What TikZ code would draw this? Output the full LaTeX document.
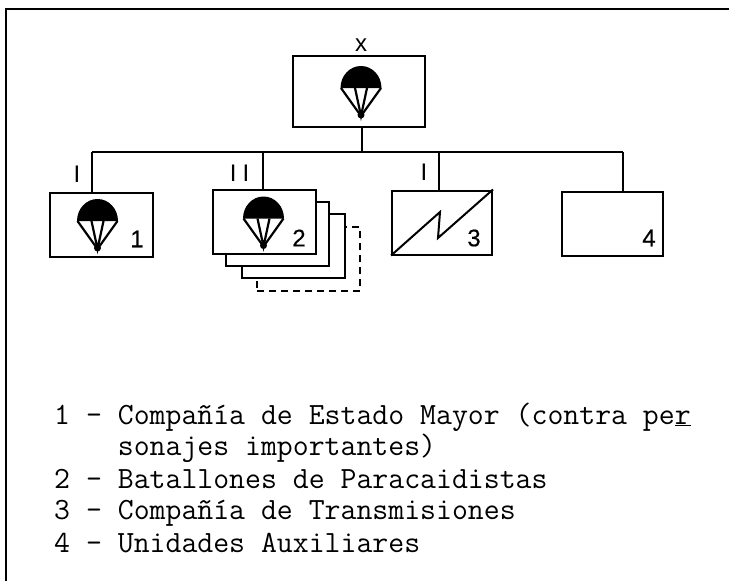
\documentclass[tikz,border=0pt]{standalone}
\usepackage{fontspec}
\setmainfont{Liberation Sans}
\usetikzlibrary{positioning}

\tikzset{
	unitbox/.style={draw=black,line width=2pt,fill=white,minimum width=103pt,minimum height=64pt,inner sep=0pt},
	bigbox/.style={unitbox,minimum width=132pt,minimum height=71pt},
	ghostbox/.style={unitbox,dash pattern=on 7pt off 5pt,line width=1.8pt},
	busline/.style={line width=2.8pt},
	drop/.style={line width=2pt},
	rank/.style={font=\fontsize{24}{24}\selectfont,inner sep=0pt},
	number/.style={font=\fontsize{24}{24}\selectfont\addfontfeature{FakeBold=0.4},inner sep=0pt},
	legend/.style={font=\ttfamily\fontsize{30.9}{32}\selectfont\addfontfeature{FakeBold=0.6},anchor=base west,inner sep=0pt}
}
% parachute symbol, drawn at the given point
\newcommand{\chute}[1]{
	\begin{scope}[shift={#1},line width=2.2pt]
		\fill (-20.5,0) arc (180:360:20.5 and 22) -- cycle;
		\draw (-20,0) -- (0,28) -- (20,0);
		\draw (-6,0) -- (0,28) -- (6,0);
		\fill (0,27) circle (3.5);
	\end{scope}
}

\begin{document}
\begin{tikzpicture}[x=1pt,y=-1pt]
\useasboundingbox (0,0) rectangle (729,581);

% frame
\draw[line width=2pt] (6,581) -- (6,9) -- (729,9);

% boxes
\node[bigbox] (top) at (359,91.5) {};
\node[unitbox] (coy) at (101.5,225) {};
\node[ghostbox] (bn4) at (308.5,259) {};
\node[unitbox] (bn3) at (293.5,245.5) {};
\node[unitbox] (bn2) at (277,233.5) {};
\node[unitbox] (bn1) at (264.5,222) {};
\node[unitbox,minimum width=100pt] (sig) at (442,222.5) {};
\node[unitbox,minimum width=101pt] (aux) at (612.5,224) {};

% lines
\coordinate (busleft) at (92,152);
\coordinate (busright) at (623,152);
\draw[busline] (busleft) -- (busright);
\draw[drop] ([xshift=3pt]top.south) -- ([xshift=3pt]top.south |- busleft);
\draw[drop] (busleft) -- (busleft |- coy.north);
\draw[drop] (263,152) -- (263,190);
\draw[drop] (439,152) -- (439,190.5);
\draw[drop] (busright) -- (busright |- aux.north);

% ranks
\node[rank] (xmark) at (361,45) {x};
\node[rank] (rcoy) at (77,174.5) {I};
\node[rank] (rbn) at (239.5,173.5) {I\hspace{6pt}I};
\node[rank] (rsig) at (424,172.5) {I};

% symbols
\chute{(361,88)}
\chute{(97.5,221)}
\chute{(263.5,218.5)}
\draw[line width=2pt] (sig.south west) -- (440,212) -- (438,238) -- (sig.north east);

% numbers
\node[number] (n1) at (137,239) {1};
\node[number] (n2) at (299,238) {2};
\node[number] (n3) at (474,238) {3};
\node[number] (n4) at (649,238) {4};

% key
\node[legend] (k1) at (54,424) {1 - Compañía de Estado Mayor (contra pe\underline{r}};
\node[legend] (k2) at (54,455) {\phantom{1 - }sonajes importantes)};
\node[legend] (k3) at (54,488) {2 - Batallones de Paracaidistas};
\node[legend] (k4) at (54,519) {3 - Compañía de Transmisiones};
\node[legend] (k5) at (54,552) {4 - Unidades Auxiliares};
\end{tikzpicture}
\end{document}
